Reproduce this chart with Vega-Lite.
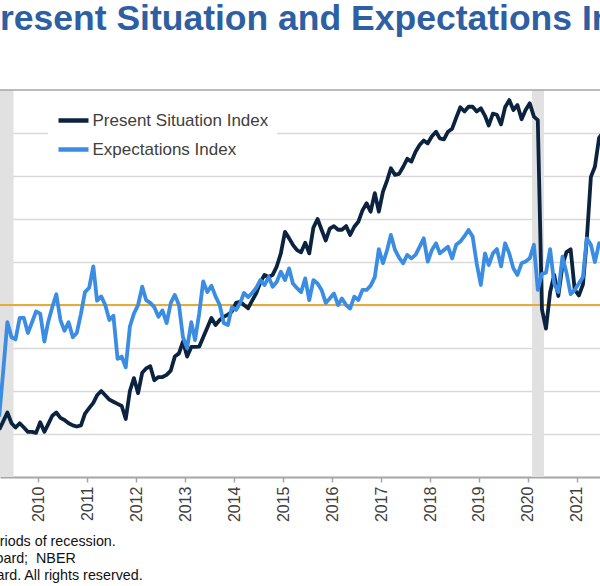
{
  "$schema": "https://vega.github.io/schema/vega-lite/v6.json",
  "width": 600,
  "height": 387,
  "autosize": {"type": "none"},
  "padding": {"left": 0, "top": 90, "right": 0, "bottom": 109},
  "background": "white",
  "config": {"view": {"stroke": null}, "font": "Liberation Sans"},
  "title": {
    "text": "Present Situation and Expectations Indexes",
    "anchor": "start",
    "align": "left",
    "frame": "group",
    "dx": -23.7,
    "offset": 52,
    "limit": 1200,
    "fontSize": 35.5,
    "fontWeight": "bold",
    "color": "#2e5fa3",
    "font": "Liberation Sans"
  },
  "datasets": {
    "rec": [
      {"s": "2007-12-01", "e": "2009-06-30"},
      {"s": "2020-02-01", "e": "2020-04-30"}
    ],
    "idx": [
      {"d": "2009-03-15", "psi": 22, "ei": 28},
      {"d": "2009-04-15", "psi": 26, "ei": 50},
      {"d": "2009-05-15", "psi": 30, "ei": 72},
      {"d": "2009-06-15", "psi": 25, "ei": 65},
      {"d": "2009-07-15", "psi": 23, "ei": 64},
      {"d": "2009-08-15", "psi": 25, "ei": 74},
      {"d": "2009-09-15", "psi": 23, "ei": 74},
      {"d": "2009-10-15", "psi": 21, "ei": 67},
      {"d": "2009-11-15", "psi": 21, "ei": 72},
      {"d": "2009-12-15", "psi": 20.5, "ei": 77},
      {"d": "2010-01-15", "psi": 25.5, "ei": 76},
      {"d": "2010-02-15", "psi": 21, "ei": 63},
      {"d": "2010-03-15", "psi": 24.5, "ei": 72},
      {"d": "2010-04-15", "psi": 28.5, "ei": 79},
      {"d": "2010-05-15", "psi": 30, "ei": 85},
      {"d": "2010-06-15", "psi": 27.5, "ei": 73},
      {"d": "2010-07-15", "psi": 26.5, "ei": 68},
      {"d": "2010-08-15", "psi": 25, "ei": 72},
      {"d": "2010-09-15", "psi": 24, "ei": 65},
      {"d": "2010-10-15", "psi": 23.5, "ei": 67},
      {"d": "2010-11-15", "psi": 24, "ei": 76},
      {"d": "2010-12-15", "psi": 29.5, "ei": 86},
      {"d": "2011-01-15", "psi": 32, "ei": 88},
      {"d": "2011-02-15", "psi": 34.5, "ei": 98},
      {"d": "2011-03-15", "psi": 38, "ei": 82},
      {"d": "2011-04-15", "psi": 40, "ei": 84},
      {"d": "2011-05-15", "psi": 38, "ei": 80},
      {"d": "2011-06-15", "psi": 36, "ei": 73},
      {"d": "2011-07-15", "psi": 35, "ei": 75},
      {"d": "2011-08-15", "psi": 34, "ei": 55},
      {"d": "2011-09-15", "psi": 33, "ei": 56},
      {"d": "2011-10-15", "psi": 27, "ei": 51},
      {"d": "2011-11-15", "psi": 40, "ei": 70},
      {"d": "2011-12-15", "psi": 46, "ei": 76},
      {"d": "2012-01-15", "psi": 39, "ei": 80},
      {"d": "2012-02-15", "psi": 48.5, "ei": 88.5},
      {"d": "2012-03-15", "psi": 50.5, "ei": 82.3},
      {"d": "2012-04-15", "psi": 51.5, "ei": 81},
      {"d": "2012-05-15", "psi": 45, "ei": 79},
      {"d": "2012-06-15", "psi": 46.5, "ei": 74.5},
      {"d": "2012-07-15", "psi": 46.5, "ei": 77.5},
      {"d": "2012-08-15", "psi": 47.5, "ei": 71.6},
      {"d": "2012-09-15", "psi": 49.5, "ei": 81},
      {"d": "2012-10-15", "psi": 56, "ei": 84.7},
      {"d": "2012-11-15", "psi": 57.5, "ei": 80},
      {"d": "2012-12-15", "psi": 63, "ei": 65},
      {"d": "2013-01-15", "psi": 56, "ei": 60},
      {"d": "2013-02-15", "psi": 60.5, "ei": 72},
      {"d": "2013-03-15", "psi": 60.5, "ei": 63.7},
      {"d": "2013-04-15", "psi": 60.6, "ei": 76},
      {"d": "2013-05-15", "psi": 65, "ei": 91},
      {"d": "2013-06-15", "psi": 69.5, "ei": 86},
      {"d": "2013-07-15", "psi": 74, "ei": 89},
      {"d": "2013-08-15", "psi": 70.7, "ei": 84},
      {"d": "2013-09-15", "psi": 73, "ei": 80},
      {"d": "2013-10-15", "psi": 74.5, "ei": 71.6},
      {"d": "2013-11-15", "psi": 75.5, "ei": 70.7},
      {"d": "2013-12-15", "psi": 77, "ei": 79},
      {"d": "2014-01-15", "psi": 81, "ei": 77.7},
      {"d": "2014-02-15", "psi": 81.5, "ei": 81},
      {"d": "2014-03-15", "psi": 80, "ei": 85.6},
      {"d": "2014-04-15", "psi": 78.5, "ei": 83.7},
      {"d": "2014-05-15", "psi": 82, "ei": 85.6},
      {"d": "2014-06-15", "psi": 85.5, "ei": 88},
      {"d": "2014-07-15", "psi": 90.5, "ei": 91.6},
      {"d": "2014-08-15", "psi": 94, "ei": 89.3},
      {"d": "2014-09-15", "psi": 93, "ei": 93},
      {"d": "2014-10-15", "psi": 94, "ei": 88.5},
      {"d": "2014-11-15", "psi": 98, "ei": 90.8},
      {"d": "2014-12-15", "psi": 104, "ei": 95.5},
      {"d": "2015-01-15", "psi": 114, "ei": 91.6},
      {"d": "2015-02-15", "psi": 111, "ei": 97},
      {"d": "2015-03-15", "psi": 108, "ei": 90},
      {"d": "2015-04-15", "psi": 105.5, "ei": 87.8},
      {"d": "2015-05-15", "psi": 104.5, "ei": 86},
      {"d": "2015-06-15", "psi": 109, "ei": 92.4},
      {"d": "2015-07-15", "psi": 104, "ei": 82.3},
      {"d": "2015-08-15", "psi": 116, "ei": 91.6},
      {"d": "2015-09-15", "psi": 120, "ei": 90},
      {"d": "2015-10-15", "psi": 115, "ei": 87},
      {"d": "2015-11-15", "psi": 110, "ei": 81},
      {"d": "2015-12-15", "psi": 115.5, "ei": 83},
      {"d": "2016-01-15", "psi": 116.7, "ei": 85.4},
      {"d": "2016-02-15", "psi": 115, "ei": 80},
      {"d": "2016-03-15", "psi": 115, "ei": 83},
      {"d": "2016-04-15", "psi": 116.7, "ei": 80},
      {"d": "2016-05-15", "psi": 112.6, "ei": 78.4},
      {"d": "2016-06-15", "psi": 116.4, "ei": 83.9},
      {"d": "2016-07-15", "psi": 118.7, "ei": 82.3},
      {"d": "2016-08-15", "psi": 124, "ei": 87},
      {"d": "2016-09-15", "psi": 127.3, "ei": 87},
      {"d": "2016-10-15", "psi": 123.4, "ei": 89},
      {"d": "2016-11-15", "psi": 132, "ei": 93},
      {"d": "2016-12-15", "psi": 123.4, "ei": 106},
      {"d": "2017-01-15", "psi": 132.7, "ei": 99.4},
      {"d": "2017-02-15", "psi": 138, "ei": 105.6},
      {"d": "2017-03-15", "psi": 143.6, "ei": 112.6},
      {"d": "2017-04-15", "psi": 140.5, "ei": 105.6},
      {"d": "2017-05-15", "psi": 141, "ei": 102},
      {"d": "2017-06-15", "psi": 144.3, "ei": 99.4},
      {"d": "2017-07-15", "psi": 148, "ei": 103.3},
      {"d": "2017-08-15", "psi": 146.7, "ei": 101.7},
      {"d": "2017-09-15", "psi": 151.3, "ei": 103.3},
      {"d": "2017-10-15", "psi": 154.4, "ei": 107},
      {"d": "2017-11-15", "psi": 156.5, "ei": 111},
      {"d": "2017-12-15", "psi": 155.2, "ei": 100.2},
      {"d": "2018-01-15", "psi": 158.5, "ei": 105.6},
      {"d": "2018-02-15", "psi": 160.6, "ei": 108.7},
      {"d": "2018-03-15", "psi": 157.5, "ei": 104},
      {"d": "2018-04-15", "psi": 157, "ei": 105.6},
      {"d": "2018-05-15", "psi": 160.6, "ei": 107.1},
      {"d": "2018-06-15", "psi": 162, "ei": 101.7},
      {"d": "2018-07-15", "psi": 167, "ei": 108},
      {"d": "2018-08-15", "psi": 172, "ei": 109.5},
      {"d": "2018-09-15", "psi": 170, "ei": 112},
      {"d": "2018-10-15", "psi": 172.2, "ei": 114.9},
      {"d": "2018-11-15", "psi": 172.2, "ei": 111.8},
      {"d": "2018-12-15", "psi": 170, "ei": 99.4},
      {"d": "2019-01-15", "psi": 171.5, "ei": 89.3},
      {"d": "2019-02-15", "psi": 168, "ei": 104},
      {"d": "2019-03-15", "psi": 163.5, "ei": 98.6},
      {"d": "2019-04-15", "psi": 169, "ei": 104},
      {"d": "2019-05-15", "psi": 168.5, "ei": 106},
      {"d": "2019-06-15", "psi": 164, "ei": 98},
      {"d": "2019-07-15", "psi": 172, "ei": 108.7},
      {"d": "2019-08-15", "psi": 175.3, "ei": 104},
      {"d": "2019-09-15", "psi": 170.7, "ei": 97},
      {"d": "2019-10-15", "psi": 173, "ei": 94},
      {"d": "2019-11-15", "psi": 166.4, "ei": 99.4},
      {"d": "2019-12-15", "psi": 170.7, "ei": 100.2},
      {"d": "2020-01-15", "psi": 173.8, "ei": 101.7},
      {"d": "2020-02-15", "psi": 167.6, "ei": 108},
      {"d": "2020-03-15", "psi": 166, "ei": 87},
      {"d": "2020-04-15", "psi": 78, "ei": 94.5},
      {"d": "2020-05-15", "psi": 69, "ei": 95},
      {"d": "2020-06-15", "psi": 86, "ei": 106},
      {"d": "2020-07-15", "psi": 94, "ei": 90},
      {"d": "2020-08-15", "psi": 84.2, "ei": 86},
      {"d": "2020-09-15", "psi": 98.5, "ei": 102.5},
      {"d": "2020-10-15", "psi": 104.6, "ei": 95},
      {"d": "2020-11-15", "psi": 105.9, "ei": 85},
      {"d": "2020-12-15", "psi": 87.2, "ei": 87},
      {"d": "2021-01-15", "psi": 84.4, "ei": 90},
      {"d": "2021-02-15", "psi": 89.6, "ei": 93},
      {"d": "2021-03-15", "psi": 110, "ei": 111},
      {"d": "2021-04-15", "psi": 139.6, "ei": 108},
      {"d": "2021-05-15", "psi": 144.3, "ei": 100},
      {"d": "2021-06-15", "psi": 157.7, "ei": 108.7},
      {"d": "2021-07-15", "psi": 160.3, "ei": 108}
    ]
  },
  "layer": [
    {
      "data": {"name": "rec"},
      "mark": {"type": "rect", "color": "#e1e1e1", "clip": true},
      "encoding": {
        "x": {
          "field": "s", "type": "temporal",
          "scale": {"type": "utc", "domain": [{"year": 2009, "month": 3, "date": 21, "utc": true}, {"year": 2021, "month": 6, "date": 22, "utc": true}]},
          "axis": {
            "title": ["Shaded areas represent\u00a0 periods of recession.", "Source:\u00a0 The Conference Board;\u00a0 NBER", "© 2021 The Conference Board. All rights reserved."],
            "titleX": -178, "titleY": 68, "titleAlign": "left", "titleAnchor": "start", "titleBaseline": "alphabetic",
            "titleFontSize": 14.3, "titleFontWeight": "normal", "titleColor": "#111111", "titleLineHeight": 17, "titleFont": "Liberation Sans", "titleLimit": 1000,
            "labelAngle": -90, "labelFontSize": 16, "labelColor": "#404040", "labelFont": "Liberation Sans", "labelPadding": 4,
            "tickSize": 5, "tickColor": "#a6a6a6", "tickWidth": 1.5, "domainColor": "#a6a6a6", "domainWidth": 2,
            "grid": false, "format": "%Y", "formatType": "utc", "tickCount": {"interval": "year", "step": 1},
            "labelFlush": false, "labelOverlap": false
          }
        },
        "x2": {"field": "e"}
      }
    },
    {
      "data": {"values": [{"v": 180}]},
      "mark": {"type": "rule", "color": "#a6a6a6", "strokeWidth": 1.5},
      "encoding": {
        "y": {"field": "v", "type": "quantitative", "scale": {"domain": [0, 180], "nice": false},
          "axis": {"title": null, "labels": false, "ticks": false, "domain": false, "grid": true, "gridColor": "#d9d9d9", "gridWidth": 1.5, "values": [20, 40, 60, 80, 100, 120, 140, 160]}}
      }
    },
    {
      "data": {"values": [{"v": 80}]},
      "mark": {"type": "rule", "color": "#e6ac3a", "strokeWidth": 2},
      "encoding": {
        "y": {"field": "v", "type": "quantitative", "scale": {"domain": [0, 180], "nice": false},
          "axis": {"title": null, "labels": false, "ticks": false, "domain": false, "grid": true, "gridColor": "#d9d9d9", "gridWidth": 1.5, "values": [20, 40, 60, 80, 100, 120, 140, 160]}}
      }
    },
    {
      "data": {"name": "idx"},
      "mark": {"type": "line", "strokeWidth": 3.8, "clip": true, "strokeJoin": "round"},
      "encoding": {
        "x": {
          "field": "d", "type": "temporal",
          "scale": {"type": "utc", "domain": [{"year": 2009, "month": 3, "date": 21, "utc": true}, {"year": 2021, "month": 6, "date": 22, "utc": true}]},
          "axis": {
            "title": ["Shaded areas represent\u00a0 periods of recession.", "Source:\u00a0 The Conference Board;\u00a0 NBER", "© 2021 The Conference Board. All rights reserved."],
            "titleX": -178, "titleY": 68, "titleAlign": "left", "titleAnchor": "start", "titleBaseline": "alphabetic",
            "titleFontSize": 14.3, "titleFontWeight": "normal", "titleColor": "#111111", "titleLineHeight": 17, "titleFont": "Liberation Sans", "titleLimit": 1000,
            "labelAngle": -90, "labelFontSize": 16, "labelColor": "#404040", "labelFont": "Liberation Sans", "labelPadding": 4,
            "tickSize": 5, "tickColor": "#a6a6a6", "tickWidth": 1.5, "domainColor": "#a6a6a6", "domainWidth": 2,
            "grid": false, "format": "%Y", "formatType": "utc", "tickCount": {"interval": "year", "step": 1},
            "labelFlush": false, "labelOverlap": false
          }
        },
        "y": {"field": "psi", "type": "quantitative", "scale": {"domain": [0, 180], "nice": false},
          "axis": {"title": null, "labels": false, "ticks": false, "domain": false, "grid": true, "gridColor": "#d9d9d9", "gridWidth": 1.5, "values": [20, 40, 60, 80, 100, 120, 140, 160]}},
        "color": {
          "datum": "Present Situation Index",
          "scale": {"domain": ["Present Situation Index", "Expectations Index"], "range": ["#0c2340", "#3a8de3"]},
          "legend": {"orient": "none", "legendX": 48, "legendY": 5, "title": null, "symbolType": "stroke", "symbolSize": 900, "symbolStrokeWidth": 4.5,
            "labelFontSize": 17, "labelFont": "Liberation Sans", "labelColor": "#404040", "fillColor": "#ffffff", "padding": 8, "rowPadding": 2, "labelOffset": 1.5, "labelLimit": 300}
        }
      }
    },
    {
      "data": {"name": "idx"},
      "mark": {"type": "line", "strokeWidth": 3.8, "clip": true, "strokeJoin": "round"},
      "encoding": {
        "x": {
          "field": "d", "type": "temporal",
          "scale": {"type": "utc", "domain": [{"year": 2009, "month": 3, "date": 21, "utc": true}, {"year": 2021, "month": 6, "date": 22, "utc": true}]},
          "axis": {
            "title": ["Shaded areas represent\u00a0 periods of recession.", "Source:\u00a0 The Conference Board;\u00a0 NBER", "© 2021 The Conference Board. All rights reserved."],
            "titleX": -178, "titleY": 68, "titleAlign": "left", "titleAnchor": "start", "titleBaseline": "alphabetic",
            "titleFontSize": 14.3, "titleFontWeight": "normal", "titleColor": "#111111", "titleLineHeight": 17, "titleFont": "Liberation Sans", "titleLimit": 1000,
            "labelAngle": -90, "labelFontSize": 16, "labelColor": "#404040", "labelFont": "Liberation Sans", "labelPadding": 4,
            "tickSize": 5, "tickColor": "#a6a6a6", "tickWidth": 1.5, "domainColor": "#a6a6a6", "domainWidth": 2,
            "grid": false, "format": "%Y", "formatType": "utc", "tickCount": {"interval": "year", "step": 1},
            "labelFlush": false, "labelOverlap": false
          }
        },
        "y": {"field": "ei", "type": "quantitative", "scale": {"domain": [0, 180], "nice": false},
          "axis": {"title": null, "labels": false, "ticks": false, "domain": false, "grid": true, "gridColor": "#d9d9d9", "gridWidth": 1.5, "values": [20, 40, 60, 80, 100, 120, 140, 160]}},
        "color": {
          "datum": "Expectations Index",
          "scale": {"domain": ["Present Situation Index", "Expectations Index"], "range": ["#0c2340", "#3a8de3"]},
          "legend": {"orient": "none", "legendX": 48, "legendY": 5, "title": null, "symbolType": "stroke", "symbolSize": 900, "symbolStrokeWidth": 4.5,
            "labelFontSize": 17, "labelFont": "Liberation Sans", "labelColor": "#404040", "fillColor": "#ffffff", "padding": 8, "rowPadding": 2, "labelOffset": 1.5, "labelLimit": 300}
        }
      }
    }
  ]
}
